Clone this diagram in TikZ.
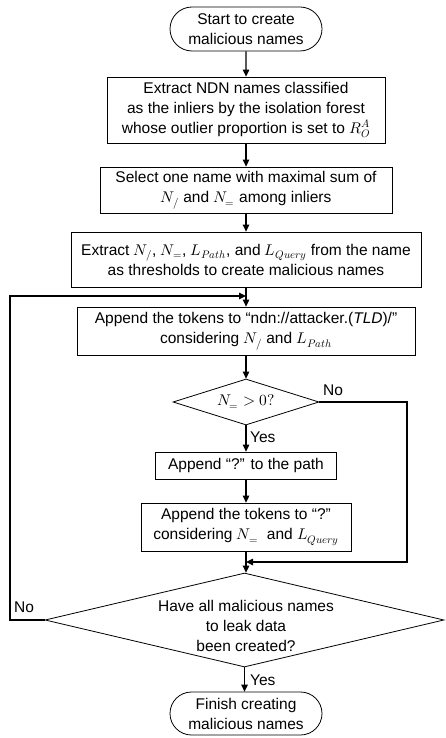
\documentclass[tikz,border=0pt]{standalone}
\usepackage{fontspec}
\usepackage{unicode-math}
\setmainfont{Liberation Sans}
\setmathfont{Latin Modern Math}
\usetikzlibrary{arrows.meta,shapes.geometric,shapes.misc}
\begin{document}
\begin{tikzpicture}[x=1pt,y=-1pt,
  basefont/.style={font=\fontsize{15.5}{20}\selectfont},
  box/.style={draw,line width=0.8pt,align=center,inner sep=0pt,basefont},
  term/.style={box,rounded rectangle},
  dec/.style={draw,line width=0.8pt,diamond,inner sep=0pt},
  txt/.style={align=center,inner sep=0pt,basefont},
  lbl/.style={inner sep=0pt,basefont},
  arr/.style={line width=1.3pt,-{Triangle[length=7pt,width=6.5pt]}}
]
\useasboundingbox (0,0) rectangle (445,738);
\fill[white] (0,0) rectangle (445,738);

\node[term,minimum width=152pt,minimum height=44pt] (start) at (246,29) {Start to create\\malicious names};
\node[box,minimum width=278pt,minimum height=66pt] (b1) at (246,110) {Extract NDN names classified\\as the inliers by the isolation forest\\whose outlier proportion is set to $R_O^A$};
\node[box,minimum width=292pt,minimum height=46pt] (b2) at (246,190) {Select one name with maximal sum of\\$N_{/}$ and $N_{=}$ among inliers};
\node[box,minimum width=350pt,minimum height=55pt] (b3) at (246,259.5) {Extract $N_{/}$, $N_{=}$, $L_{Path}$, and $L_{Query}$ from the name\\as thresholds to create malicious names};
\node[box,minimum width=338pt,minimum height=48pt] (b4) at (246,331) {Append the tokens to “ndn://attacker.(\textit{TLD})/”\\considering $N_{/}$ and $L_{Path}$};
\node[dec,minimum width=146pt,minimum height=46pt] (d1) at (246,402) {};
\node[txt] (d1t) at (d1) {$N_{=} > 0?$};
\node[box,minimum width=181pt,minimum height=27pt] (b5) at (246,465.5) {Append “?” to the path};
\node[box,minimum width=210pt,minimum height=48pt] (b6) at (246,527) {Append the tokens to “?”\\considering $N_{=}$\ \ and $L_{Query}$};
\node[dec,minimum width=399pt,minimum height=94pt] (d2) at (244.5,620) {};
\node[txt] (d2t) at (246,626) {Have all malicious names\\to leak data\\been created?};
\node[term,minimum width=152pt,minimum height=43pt] (finish) at (246,713.5) {Finish creating\\malicious names};

\coordinate (loopX) at (10,0);
\coordinate (merge1) at (246,296);
\coordinate (rightX) at (407,0);
\coordinate (merge2) at (246,562);

\draw[arr] (start) -- (b1);
\draw[arr] (b1) -- (b2);
\draw[arr] (b2) -- (b3);
\draw[arr] (b3) -- (b4);
\draw[arr] (b4) -- (d1);
\draw[arr] (d1) -- (b5);
\draw[arr] (b5) -- (b6);
\draw[arr] (b6) -- (b6.south |- d2.north);
\draw[arr] (d1.east) -- (d1.east -| rightX) |- (merge2);
\draw[arr] (d2.west) -- (d2.west -| loopX) |- (merge1);
\draw[arr] (d2.south) -- (d2.south |- finish.north);

\node[lbl,anchor=west] (no1) at (323,390) {No};
\node[lbl,anchor=west] (yes1) at (250,437) {Yes};
\node[lbl,anchor=west] (no2) at (14,607) {No};
\node[lbl,anchor=west] (yes2) at (250,680) {Yes};
\end{tikzpicture}
\end{document}
